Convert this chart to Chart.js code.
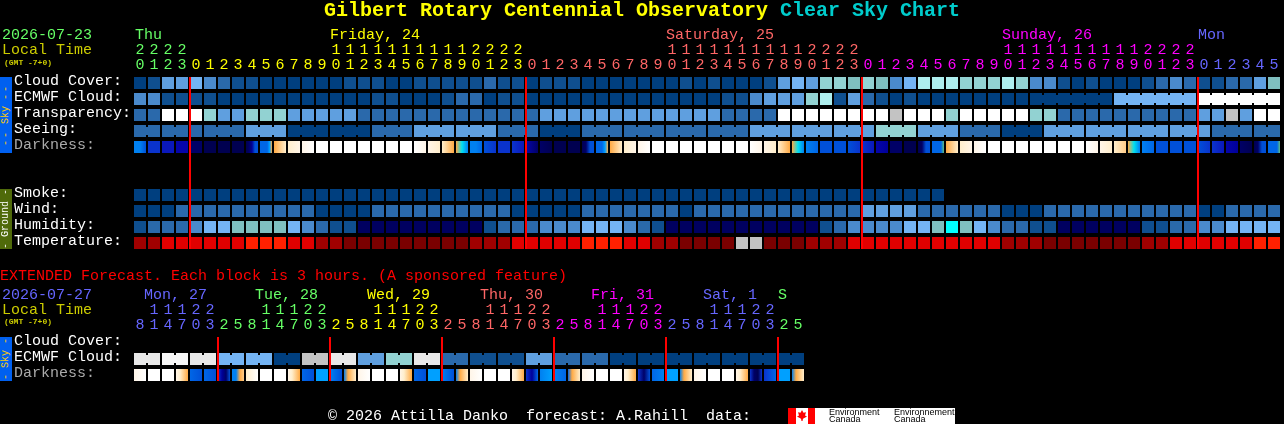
<!DOCTYPE html>
<html>
<head>
<meta charset="utf-8">
<title>Clear Sky Chart</title>
<script src="https://cdn.jsdelivr.net/npm/chart.js@4"></script>
<style>
html, body { margin: 0; padding: 0; background: #000; overflow: hidden; }
#page { position: relative; width: 1284px; height: 424px; background: #000; font: 15px/15px "Liberation Mono", monospace; }
canvas { position: absolute; left: 0; }
#page div { position: absolute; white-space: pre; }
.title { font-size: 20px; line-height: 20px; font-weight: bold; top: 1px; }
.gmt { font-size: 8px; line-height: 8px; font-weight: bold; color: #cccc00; left: 4px; }
.side { left: 0; width: 12px; writing-mode: vertical-rl; transform: rotate(180deg); text-align: center; font-size: 10px; line-height: 12px; }
.side b { font-weight: normal; letter-spacing: 2px; }
.flagtxt { font: 9px/7px "Liberation Sans", sans-serif; color: #000; top: 409px; }
</style>
</head>
<body>
<div id="page">
  <canvas id="mainChart" width="1281" height="260" style="top:0"></canvas>
  <canvas id="extChart" width="805" height="164" style="top:260px"></canvas>

  <div class="title" style="left:324px;color:#ffff00">Gilbert Rotary Centennial Observatory</div>
  <div class="title" style="left:780px;color:#00cccc">Clear Sky Chart</div>

  <div style="left:2px;top:28px;color:#66ff66">2026-07-23</div>
  <div style="left:2px;top:43px;color:#cccc00">Local Time</div>
  <div class="gmt" style="top:59px">(GMT -7+0)</div>
  <div style="left:135px;top:28px;color:#66ff66">Thu</div>
  <div style="left:330px;top:28px;color:#ffff00">Friday, 24</div>
  <div style="left:666px;top:28px;color:#ff6666">Saturday, 25</div>
  <div style="left:1002px;top:28px;color:#ff00ff">Sunday, 26</div>
  <div style="left:1198px;top:28px;color:#6666ff">Mon</div>

  <div class="side" style="top:77px;height:76px;background:#0060f0;color:#ffcc00"><b>--</b> Sky <b>--</b></div>
  <div class="side" style="top:189px;height:60px;background:#4f6a0a;color:#ffffff">- Ground -</div>
  <div class="side" style="top:337px;height:44px;background:#0060f0;color:#ffcc00">- Sky -</div>

  <div style="left:0;top:269px;color:#ff0000">EXTENDED Forecast. Each block is 3 hours. (A sponsored feature)</div>
  <div style="left:2px;top:288px;color:#6666ff">2026-07-27</div>
  <div style="left:2px;top:303px;color:#cccc00">Local Time</div>
  <div class="gmt" style="top:318px">(GMT -7+0)</div>
  <div style="left:144px;top:288px;color:#6666ff">Mon, 27</div>
  <div style="left:255px;top:288px;color:#66ff66">Tue, 28</div>
  <div style="left:367px;top:288px;color:#ffff00">Wed, 29</div>
  <div style="left:480px;top:288px;color:#ff6666">Thu, 30</div>
  <div style="left:591px;top:288px;color:#ff00ff">Fri, 31</div>
  <div style="left:703px;top:288px;color:#6666ff">Sat, 1</div>
  <div style="left:778px;top:288px;color:#66ff66">S</div>

  <div style="left:328px;top:409px;color:#ffffff">© 2026 Attilla Danko  forecast: A.Rahill  data:</div>
  <div style="left:788px;top:408px;width:167px;height:16px;background:#fff"></div>
  <div style="left:788px;top:408px;width:8px;height:16px;background:#f00"></div>
  <div style="left:808px;top:408px;width:7px;height:16px;background:#f00"></div>
  <div style="left:797px;top:410px;width:10px;height:11px;background:#f00;clip-path:polygon(50% 0,65% 25%,90% 20%,80% 50%,100% 60%,60% 80%,55% 100%,45% 100%,40% 80%,0 60%,20% 50%,10% 20%,35% 25%)"></div>
  <div class="flagtxt" style="left:829px">Environment
Canada</div>
  <div class="flagtxt" style="left:894px">Environnement
Canada</div>
</div>

<script>
// hour of every column
const hours = [20,21,22,23,
    0,1,2,3,4,5,6,7,8,9,10,11,12,13,14,15,16,17,18,19,20,21,22,23,
    0,1,2,3,4,5,6,7,8,9,10,11,12,13,14,15,16,17,18,19,20,21,22,23,
    0,1,2,3,4,5,6,7,8,9,10,11,12,13,14,15,16,17,18,19,20,21,22,23,
    0,1,2,3,4,5];
const extHours = [8,11,14,17,20,23,
    2,5,8,11,14,17,20,23, 2,5,8,11,14,17,20,23, 2,5,8,11,14,17,20,23,
    2,5,8,11,14,17,20,23, 2,5,8,11,14,17,20,23, 2,5];

// first column of each day, the red lines stand there
const midnights = [4,28,52,76];
const extMidnights = [6,14,22,30,38,46];

const rowNames = ['Cloud Cover:','ECMWF Cloud:','Transparency:','Seeing:','Darkness:','Smoke:','Wind:','Humidity:','Temperature:'];
const extRowNames = ['Cloud Cover:','ECMWF Cloud:','Darkness:'];

// sky levels, index into skyColors
const cloudCover = [0,1,4,4,5,3,2,1,1,0,0,0,0,0,0,1,1,1,0,0,1,1,1,1,1,2,1,1,0,1,1,1,0,0,0,0,0,0,0,1,0,1,0,0,0,1,4,5,4,6,6,7,
    6,7,3,5,8,8,8,6,6,6,8,6,3,3,1,0,1,0,0,0,1,2,3,2,1,1,2,2,4,7];
const ecmwf = [3,3,1,1,1,1,0,0,0,0,0,0,0,0,0,0,0,1,1,0,0,0,1,2,2,0,1,1,0,0,0,0,0,0,0,0,0,0,0,0,0,0,1,1,3,4,4,4,6,8,1,4,
    2,1,0,1,0,0,0,0,0,0,0,0,0,0,0,0,0,0,5,5,5,5,5,5,9,9,9,9,9,9];
const ecmwfLinks = [[64,69],[70,75],[76,81]];
const transparency = [2,2,9,9,9,6,4,4,6,6,6,4,4,4,4,4,2,2,2,2,2,2,2,2,2,2,2,2,2,4,4,4,4,4,4,4,4,4,4,4,4,4,2,2,2,2,9,9,9,9,9,9,
    9,9,11,9,9,9,6,9,9,9,9,9,6,6,2,2,2,2,2,2,2,2,2,2,4,4,11,4,9,9];
const seeing = [2,2,2,2,2,2,2,2,4,4,4,0,0,0,0,0,0,2,2,2,4,4,4,4,4,4,2,2,2,0,0,0,2,2,2,2,2,2,2,2,2,2,2,2,4,4,4,4,4,4,4,4,4,
    6,6,6,4,4,4,2,2,2,0,0,0,4,4,4,4,4,4,4,4,4,4,4,4,2,2,2,2,2];
const seeingLinks = [[0,1],[2,3],[5,7],[8,10],[11,13],[14,16],[17,19],[20,22],[23,25],[26,28],[29,31],[32,34],[35,37],[38,40],[41,43],
    [44,46],[47,49],[50,52],[53,55],[56,58],[59,61],[62,64],[65,67],[68,70],[71,73],[74,76],[77,79],[80,81]];
const smoke = [0,0,0,0,0,0,0,0,0,0,0,0,0,0,0,0,0,0,0,0,0,0,0,0,0,0,0,0,0,0,0,0,0,0,0,0,0,0,0,0,0,0,0,0,0,0,0,0,0,0,0,0,0,0,0,0,0,0];
const wind = [0,0,0,2,2,2,2,2,2,2,2,2,2,0,0,0,0,2,2,2,2,2,2,2,2,2,2,0,0,0,0,0,2,2,2,2,2,2,2,0,2,2,2,2,2,2,2,2,2,2,2,2,
    4,4,4,4,2,2,2,2,2,2,0,0,0,2,2,2,2,2,2,2,2,2,2,2,0,0,2,2,2,2];
const humidity = [1,2,2,2,3,5,5,7,7,7,7,5,3,2,1,1,13,13,13,13,13,13,13,13,13,1,2,2,2,3,3,3,5,5,5,3,2,1,13,13,13,13,13,13,13,13,13,13,13,1,2,3,
    3,3,3,5,5,7,12,7,5,3,2,2,1,1,13,13,13,13,13,13,1,1,2,2,3,3,5,5,5,5];
const temperature = [1,1,2,2,2,2,2,2,3,3,3,2,2,1,1,0,0,0,0,0,0,0,0,0,1,1,1,2,2,2,2,2,3,3,3,2,2,1,1,0,0,0,0,4,4,0,0,0,1,1,1,2,
    2,2,2,2,2,2,2,2,2,2,1,1,1,0,0,0,0,0,0,0,1,1,2,2,2,2,2,2,3,3];

// darkness, each cell runs through a few levels from left to right
const darkness = [[8,8,6],[5,5],[4,4],[3,3],[1,1],[0,0],[0,0],[0,0],[0,1,2,6,6],[7,7,7,7,9,11],[11,12,13],[13,14],[14,15],
    [15],[15],[15],[15],[15],[15],[15],[15,14],[14,13],[13,12,11],[11,10,8],[8,8,7],[6,5],[5,5],[5,4],[3,1],[1,0],[0],[0],
    [0,1,6,6],[7,7,7,9,11],[11,12,13],[13,14],[14,15],[15],[15],[15],[15],[15],[15],[15],[15,14],[14,13],[13,12,11],[11,10,8],
    [8,7],[6,6],[6,6],[6,5],[5,4],[3,2],[1,1],[0,0],[0,1,6,6],[7,7,7,7,16],[11,12,13],[13,14],[14,15],[15],[15],[15],[15],[15],[15],[15],
    [15,14],[14,13],[13,12],[11,10,8],[8,7],[6,6],[6,6],[6,6],[6,5],[5,4],[3,2],[1,0],[0,1,6,6],[7,7,7,7,16]];

const extEcmwf = [10,10,14,14,10,10,5,5,5,5,0,0,11,11,10,10,4,4,6,6,10,10,2,2,1,1,1,1,4,4,2,2,2,2,0,0,0,0,0,0,0,0,0,0,0,0,0,0];
const extLinks = [[0,1],[2,3],[4,5],[6,7],[8,9],[10,11],[12,13],[14,15],[16,17],[18,19],[20,21],[22,23],[24,25],[26,27],[28,29],[30,31],[32,33],
    [34,35],[36,37],[38,39],[40,41],[42,43],[44,45],[46,47]];
const extDarkness = [[14,15],[15],[15],[14,13,12,11],[7,6],[7,6],[5,2,1,6],[8,8,11,12],[13,15],[15],[15],[14,13,12,11],[7,6],[9,9],[8,6],[8,11,12,13],
    [14,15],[15],[15],[14,13,12,11],[7,6],[9,9],[8,6],[8,11,12,13],[14,15],[15],[15],[14,13,12,11],[5,2,7],[8,9],[8,7],[7,11,12,13],
    [14,15],[15],[15],[14,13,12,11],[5,1,6],[7,8],[9,9],[8,11,12,13],[14,15],[15],[15],[14,13,12,11],[5,1,0,5],[5,7],[9,9],[8,11,12,13]];

const skyColors = ['#003f7f','#0f4f8f','#2a69ab','#4a8acc','#5f9fdf','#74b4f4','#92d2d2','#7fbfbf','#aeeeee','#ffffff','#e8e8e8','#c3c3c3','#00ffff','#000060','#f8f8f8'];
const tempColors = ['#7a0000','#a00000','#e00000','#ff2000','#c3c3c3'];
const darkColors = ['#000050','#000066','#000099','#0505aa','#0a18bb','#0a33cc','#0050d8','#0066e6','#0080f0','#00a0ff','#00e0f0','#ffaa44','#ffcc88','#ffeecc','#fff5e8','#ffffff','#60c080'];

const dayColors = { green: '#66ff66', yellow: '#ffff00', salmon: '#ff6666', magenta: '#ff00ff', blue: '#6666ff' };
const FONT = { family: '"Liberation Mono", monospace', size: 15, lineHeight: '15px' };

// row height is 16px, a block is 12px of it
const BLOCK = 0.75;

function cells(label, values, row, colors) {
    return {
        label,
        order: 2,
        barThickness: 12,
        inflateAmount: 0,
        data: values.map((v, i) => ({ x: i + 0.5, y: [row, row + BLOCK] })),
        backgroundColor: values.map(v => colors[v]),
    };
}

// small 2px bridge between two blocks of the same forecast period
function links(label, values, row, colors, spans) {
    const data = [], bg = [];
    spans.forEach(([from, to]) => {
        for (let i = from; i < to; i++) {
            data.push({ x: i + 1, y: [row + 0.125, row + 0.625] });
            bg.push(colors[values[i]]);
        }
    });
    return { label, order: 2, barThickness: 2, inflateAmount: 0, data, backgroundColor: bg };
}

function gradientCells(label, values, row) {
    return {
        label,
        order: 2,
        barThickness: 12,
        inflateAmount: 0,
        data: values.map((v, i) => ({ x: i + 0.5, y: [row, row + BLOCK] })),
        backgroundColor: ctx => {
            if (ctx.dataIndex === undefined) return '#000';
            const stops = values[ctx.dataIndex];
            if (stops.length === 1) return darkColors[stops[0]];
            const mid = ctx.chart.scales.x.getPixelForValue(ctx.dataIndex + 0.5);
            // the scale has no size yet on the first pass
            if (!Number.isFinite(mid)) return darkColors[stops[0]];
            const g = ctx.chart.ctx.createLinearGradient(mid - 6, 0, mid + 6, 0);
            stops.forEach((s, n) => g.addColorStop(n / (stops.length - 1), darkColors[s]));
            return g;
        },
    };
}

function redLines(cols, bottom) {
    return {
        label: 'midnight',
        order: 1,
        barThickness: 2,
        inflateAmount: 0,
        data: cols.map(c => ({ x: c + 1 / 14, y: [0, bottom] })),
        backgroundColor: '#ff0000',
    };
}

function hourLabel(h) {
    return h < 10 ? ['', String(h)] : [String(h).charAt(0), String(h).charAt(1)];
}

function makeChart(id, labels, colorOf, rows, names, nameColor, yMax, datasets) {
    return new Chart(document.getElementById(id), {
        type: 'bar',
        data: { datasets },
        options: {
            responsive: false,
            animation: false,
            grouped: false,
            layout: { padding: { left: 14, top: 0, right: 0, bottom: 0 } },
            plugins: { legend: { display: false }, tooltip: { enabled: false } },
            scales: {
                x: {
                    type: 'linear',
                    position: 'top',
                    offset: false,
                    min: 0,
                    max: labels.length,
                    grid: { display: false, drawTicks: false },
                    border: { display: false },
                    afterBuildTicks: s => { s.ticks = labels.map((h, i) => ({ value: i + 0.5 })); },
                    afterFit: s => { s.height = 77; s.paddingLeft = 0; s.paddingRight = 0; },
                    ticks: {
                        autoSkip: false, maxRotation: 0, minRotation: 0, padding: 4,
                        font: FONT,
                        color: ctx => colorOf(ctx.index),
                        callback: (v, i) => hourLabel(labels[i]),
                    },
                },
                y: {
                    type: 'linear',
                    reverse: true,
                    min: 0,
                    max: yMax,
                    grid: { display: false, drawTicks: false },
                    border: { display: false },
                    afterBuildTicks: s => { s.ticks = rows.map(r => ({ value: r + 0.28 })); },
                    afterFit: s => { s.width = 119; s.paddingTop = 0; s.paddingBottom = 0; },
                    ticks: {
                        autoSkip: false, crossAlign: 'far', padding: 0,
                        font: FONT,
                        color: ctx => nameColor(ctx.index),
                        callback: (v, i) => names[i],
                    },
                },
            },
        },
    });
}

function mainDayColor(i) {
    if (i < 4) return dayColors.green;
    if (i < 28) return dayColors.yellow;
    if (i < 52) return dayColors.salmon;
    if (i < 76) return dayColors.magenta;
    return dayColors.blue;
}

function extDayColor(i) {
    if (i < 6) return dayColors.blue;
    if (i < 14) return dayColors.green;
    if (i < 22) return dayColors.yellow;
    if (i < 30) return dayColors.salmon;
    if (i < 38) return dayColors.magenta;
    if (i < 46) return dayColors.blue;
    return dayColors.green;
}

makeChart('mainChart', hours, mainDayColor, [0,1,2,3,4,7,8,9,10], rowNames,
    i => (i === 4 ? '#aaaaaa' : '#ffffff'), 183 / 16, [
    redLines(midnights, 10.75),
    cells('Cloud Cover', cloudCover, 0, skyColors),
    cells('ECMWF Cloud', ecmwf, 1, skyColors),
    links('ECMWF links', ecmwf, 1, skyColors, ecmwfLinks),
    cells('Transparency', transparency, 2, skyColors),
    cells('Seeing', seeing, 3, skyColors),
    links('Seeing links', seeing, 3, skyColors, seeingLinks),
    gradientCells('Darkness', darkness, 4),
    cells('Smoke', smoke, 7, skyColors),
    cells('Wind', wind, 8, skyColors),
    cells('Humidity', humidity, 9, skyColors),
    cells('Temperature', temperature, 10, tempColors),
]);

makeChart('extChart', extHours, extDayColor, [0,1,2], extRowNames,
    i => (i === 2 ? '#aaaaaa' : '#ffffff'), 87 / 16, [
    redLines(extMidnights, 2.75),
    cells('ECMWF Cloud', extEcmwf, 1, skyColors),
    links('ECMWF links', extEcmwf, 1, skyColors, extLinks),
    gradientCells('Darkness', extDarkness, 2),
]);
</script>
</body>
</html>
